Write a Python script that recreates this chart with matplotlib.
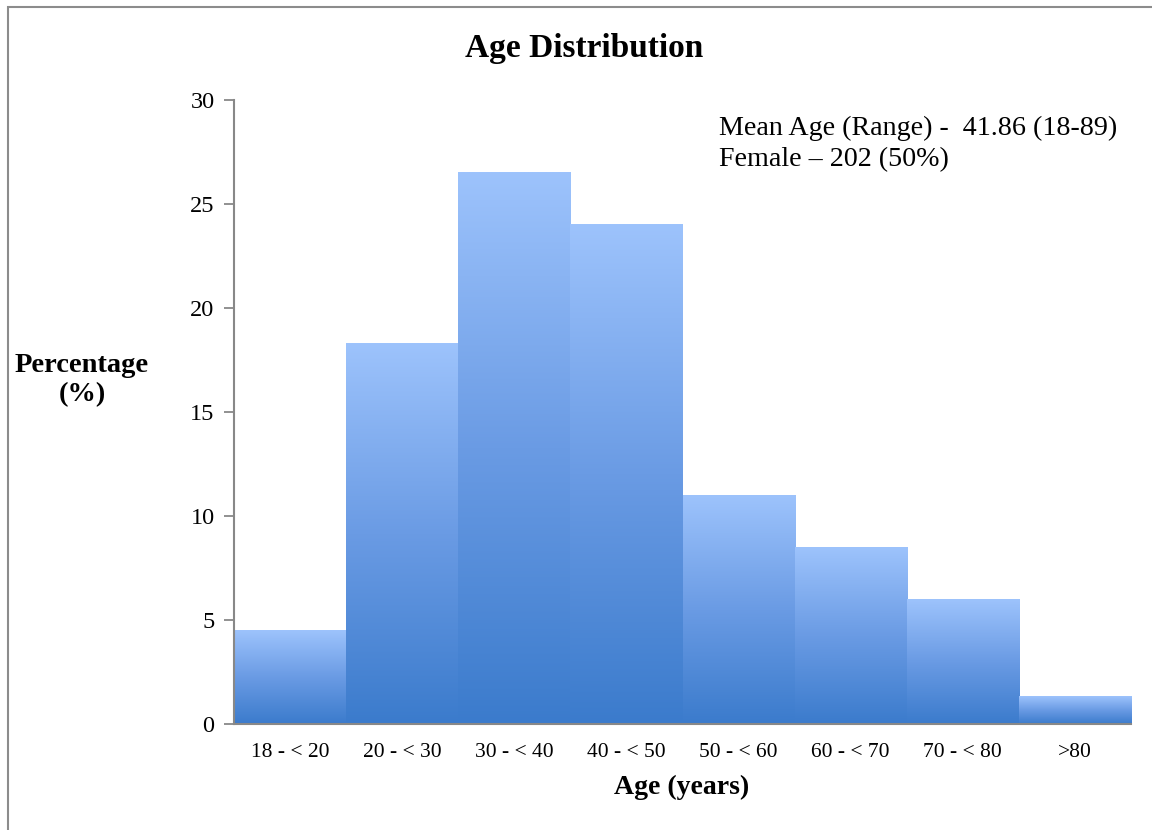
import numpy as np
import matplotlib
matplotlib.use('Agg')
from matplotlib import pyplot as plt
from matplotlib.colors import LinearSegmentedColormap
from matplotlib.patches import Rectangle

# data
age_groups = ['18 - < 20', '20 - < 30', '30 - < 40', '40 - < 50',
              '50 - < 60', '60 - < 70', '70 - < 80', '>80']
percent = [4.5, 18.3, 26.5, 24.0, 11.0, 8.5, 6.0, 1.3]
yticks = [0, 5, 10, 15, 20, 25, 30]

plt.rcParams['font.family'] = ['Liberation Serif', 'DejaVu Serif']

W, H = 1152, 830
fig = plt.figure(figsize=(W / 100, H / 100), dpi=100)
ax = fig.add_axes([234 / W, 1 - 724 / H, (1131 - 234) / W, (724 - 100) / H])

# outer frame of the chart area
fig.patches.append(Rectangle((8 / W, -0.05), 1.2, 1 - 7 / H + 0.05,
                             transform=fig.transFigure, fill=False,
                             edgecolor='#8c8c8c', linewidth=1.5))

cmap = LinearSegmentedColormap.from_list('bar', ['#3b7bcc', '#6a9be4', '#9dc3fc'])
grad = np.linspace(0, 1, 256).reshape(-1, 1)

x = np.arange(len(age_groups))
bars = ax.bar(x, percent, width=1.0, color='none', edgecolor='none')
for b in bars:
    x0 = b.get_x()
    ax.imshow(grad, cmap=cmap, origin='lower', aspect='auto',
              extent=[x0, x0 + b.get_width(), 0, b.get_height()], zorder=2)

ax.set_xlim(-0.5, len(age_groups) - 0.5)
ax.set_ylim(0, 30)
ax.set_yticks(yticks)
ax.set_xticks(x)
ax.set_xticklabels(age_groups, fontsize=15.5)
ax.tick_params(axis='y', labelsize=17.5, length=7, width=1.3, color='#888888', pad=7)
ax.tick_params(axis='x', length=0, pad=14)

for s in ['top', 'right']:
    ax.spines[s].set_visible(False)
for s in ['left', 'bottom']:
    ax.spines[s].set_color('#888888')
    ax.spines[s].set_linewidth(1.5)
    ax.spines[s].set_zorder(3)

fig.text(584 / W, 1 - 49 / H, 'Age Distribution', fontsize=24, fontweight='bold',
         ha='center', va='center')
fig.text(82 / W, 1 - 380 / H, 'Percentage\n(%)', fontsize=20.5, fontweight='bold',
         ha='center', va='center', linespacing=1.25)
fig.text(682 / W, 1 - 787 / H, 'Age (years)', fontsize=20, fontweight='bold',
         ha='center', va='center')
fig.text(719 / W, 1 - 116 / H, 'Mean Age (Range) -  41.86 (18-89)\nFemale \u2013 202 (50%)',
         fontsize=20.2, ha='left', va='top', linespacing=1.3)

fig.savefig('out.png', dpi=100)
